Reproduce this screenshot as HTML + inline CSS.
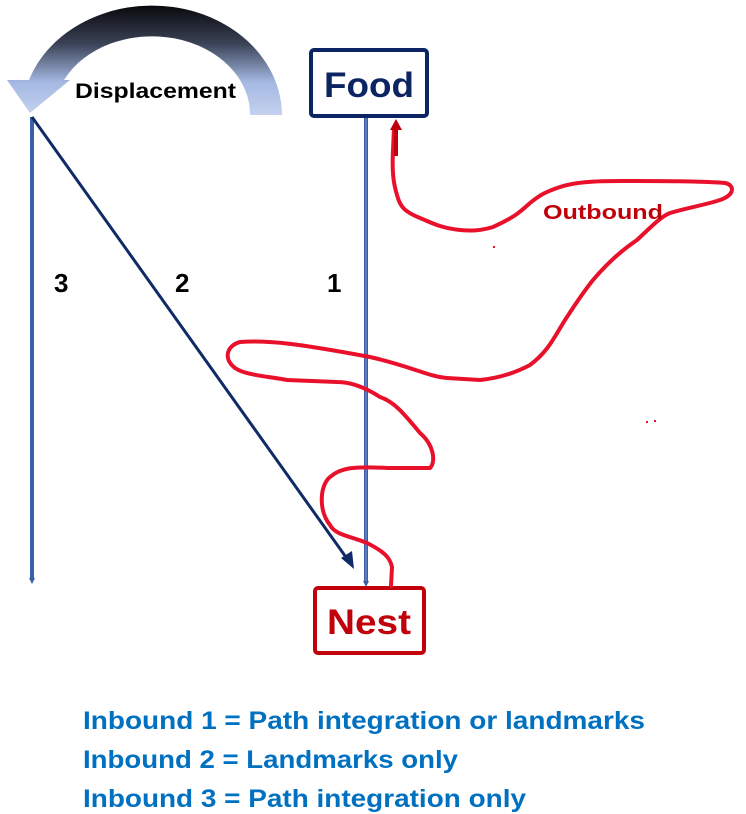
<!DOCTYPE html>
<html><head><meta charset="utf-8"><style>
html,body{margin:0;padding:0;background:#fff;}
svg{display:block;}
text{font-family:"Liberation Sans",sans-serif;font-weight:bold;}
</style></head><body>
<svg width="746" height="814" viewBox="0 0 746 814" xmlns="http://www.w3.org/2000/svg">
<defs>
<linearGradient id="g" x1="0" y1="5" x2="0" y2="115" gradientUnits="userSpaceOnUse">
<stop offset="0" stop-color="#08080c"/>
<stop offset="0.35" stop-color="#3a4256"/>
<stop offset="0.7" stop-color="#a4b8e2"/>
<stop offset="1" stop-color="#c4d2ee"/>
</linearGradient>
</defs>
<path d="M282,115 A130,110 0 0 0 29,80 L7,80 L30,113 L70,80 L64,80 A98,78 0 0 1 250,115 Z" fill="url(#g)"/>
<text x="75" y="98" font-size="21" fill="#000" textLength="161" lengthAdjust="spacingAndGlyphs">Displacement</text>

<line x1="32" y1="117" x2="32" y2="580" stroke="#3a5fa8" stroke-width="4"/>
<path d="M29,578 L32,584 L35,578 Z" fill="#3a5fa8"/>
<line x1="366" y1="117" x2="366" y2="583" stroke="#3a5fa8" stroke-width="4"/>
<line x1="366" y1="117" x2="366" y2="583" stroke="#7d9ad2" stroke-width="1"/>
<path d="M363,581 L366,587 L369,581 Z" fill="#3a5fa8"/>
<line x1="32" y1="117" x2="348" y2="560" stroke="#0f2a66" stroke-width="3"/>
<path d="M354,569 L341,558 L352,551 Z" fill="#0f2a66"/>

<text x="54" y="292" font-size="26" fill="#000">3</text>
<text x="175" y="292" font-size="26" fill="#000">2</text>
<text x="327" y="292" font-size="26" fill="#000">1</text>

<rect x="311" y="50" width="116" height="66" rx="3" fill="#fff" stroke="#0c2462" stroke-width="4"/>
<text x="369" y="97" font-size="35" fill="#0c2462" text-anchor="middle" textLength="90" lengthAdjust="spacingAndGlyphs">Food</text>
<rect x="315" y="588" width="109" height="65" rx="3" fill="#fff" stroke="#c0000a" stroke-width="4"/>
<text x="369" y="634" font-size="35" fill="#c0000a" text-anchor="middle" textLength="84" lengthAdjust="spacingAndGlyphs">Nest</text>

<path d="M391,586 L392,567 C390,558 385,552 367,543 C350,536 335,535 330,525 C318,510 320,485 330,477 C340,468 353,466 387,468 L430,468 C436,462 434,445 420,433 C405,415 395,402 380,397 C360,384 345,382 337,382 L287,380 C265,376 245,375 235,368 C222,358 228,345 240,342 C270,340 300,344 370,357 C410,366 430,377 447,378 L480,380 C500,378 515,373 530,365 C550,350 555,335 567,317 C578,300 585,290 593,280 C610,260 625,248 637,240 C650,228 660,217 670,213 C690,207 705,205 720,200 C735,195 735,185 725,183 C700,181 660,181 620,181 C595,181 575,182 560,187 C545,192 540,195 530,203 C520,212 515,217 493,227 C480,231 470,231 460,230 C440,228 430,222 420,218 C405,212 400,207 397,195 C393,182 392,170 393,150 L394,128" fill="none" stroke="#e8102a" stroke-width="4" stroke-linecap="round"/>
<path d="M390,130 L396,119 L402,130 Z" fill="#c0000a"/>
<line x1="396" y1="128" x2="396" y2="156" stroke="#c0000a" stroke-width="4"/>
<text x="543" y="219" font-size="20" fill="#c0000a" textLength="120" lengthAdjust="spacingAndGlyphs">Outbound</text>
<rect x="493" y="246" width="2" height="2" fill="#e8102a"/>
<rect x="646" y="421" width="2" height="2" fill="#e8102a"/>
<rect x="654" y="420" width="2" height="2" fill="#e8102a"/>

<text x="83" y="729" font-size="25" fill="#0070c0" textLength="562" lengthAdjust="spacingAndGlyphs">Inbound 1 = Path integration or landmarks</text>
<text x="83" y="768" font-size="25" fill="#0070c0" textLength="375" lengthAdjust="spacingAndGlyphs">Inbound 2 = Landmarks only</text>
<text x="83" y="807" font-size="25" fill="#0070c0" textLength="443" lengthAdjust="spacingAndGlyphs">Inbound 3 = Path integration only</text>
</svg>
</body></html>
